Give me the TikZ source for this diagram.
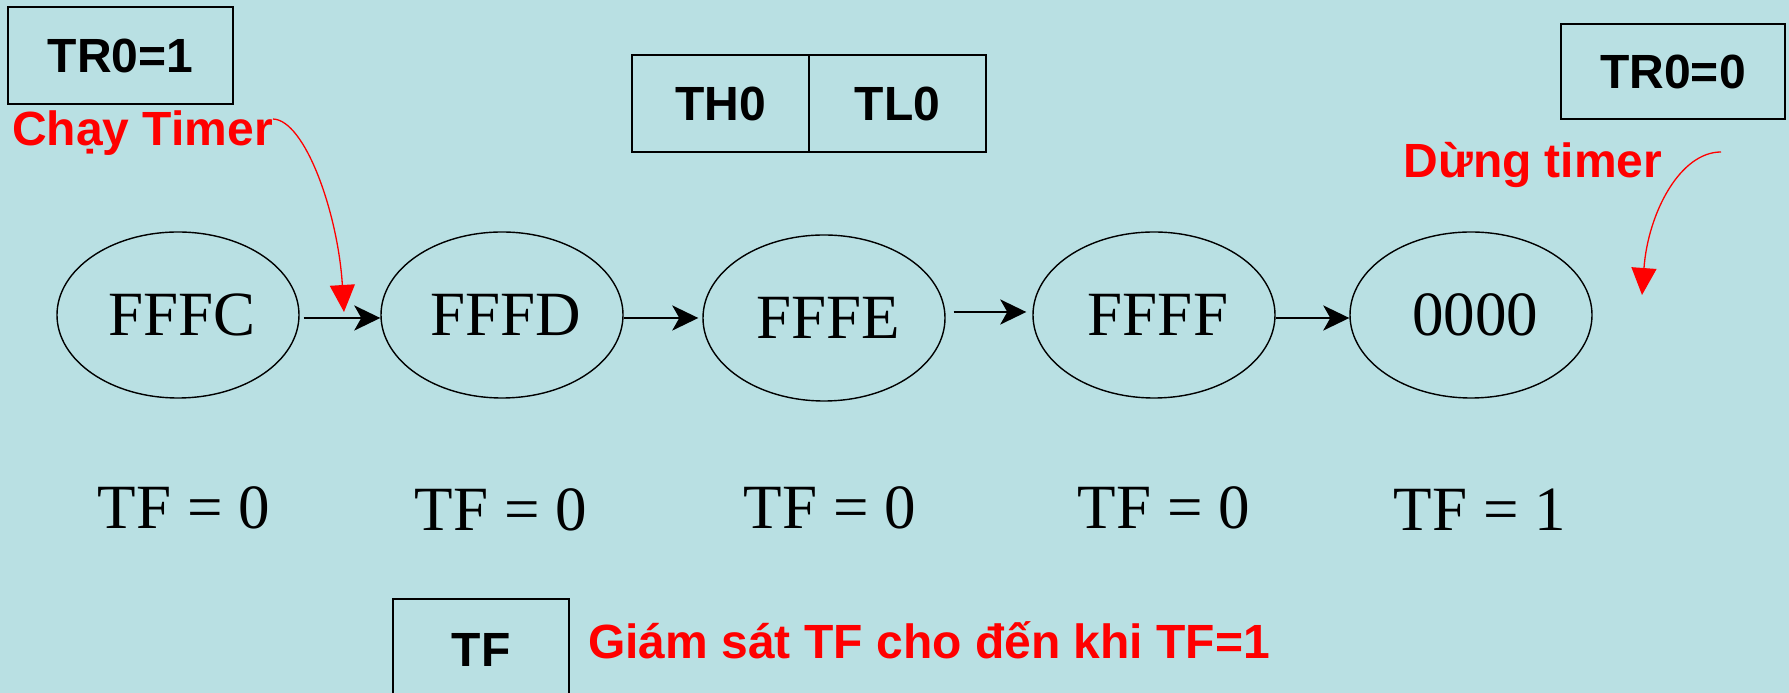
\documentclass[tikz,border=0pt]{standalone}
\usepackage{fontspec}
\setmainfont{Liberation Serif}
\newfontfamily\labelfont{Liberation Sans}
\usetikzlibrary{arrows.meta,shapes.geometric}
\definecolor{bgblue}{RGB}{185,224,227}
\definecolor{alertred}{RGB}{255,0,0}

\begin{document}
\begin{tikzpicture}[x=1pt,y=1pt,
  regbox/.style={draw, line width=1.7pt, inner sep=0pt,
    font=\labelfont\bfseries\fontsize{48}{50}\selectfont},
  countval/.style={ellipse, draw, line width=1.4pt, minimum width=242pt,
    minimum height=166pt, inner sep=0pt, font=\fontsize{63}{66}\selectfont},
  flag/.style={anchor=base, inner sep=0pt, font=\fontsize{63}{66}\selectfont},
  note/.style={anchor=base, inner sep=0pt, text=alertred,
    font=\labelfont\bfseries\fontsize{48}{50}\selectfont},
  tickarrow/.style={-{Stealth[length=26pt,width=25pt,inset=7pt]}, line width=2.7pt},
  callout/.style={-{Triangle[length=27pt,width=25pt]}, line width=1.3pt, color=alertred},
]
% background and page frame
\fill[bgblue] (0,0) rectangle (1789,693);
\useasboundingbox (0,0) rectangle (1789,693);

% control bits and registers
\node[regbox, minimum width=225pt, minimum height=97pt] (run) at (120.5,637.5) {TR0=1};
\node[regbox, minimum width=177pt, minimum height=97pt] (th) at (720.5,589.5) {TH0};
\node[regbox, minimum width=177pt, minimum height=97pt] (tl) at (897.5,589.5) {TL0};
\node[regbox, minimum width=224pt, minimum height=95pt] (stop) at (1673,621.5) {TR0=0};
\node[regbox, minimum width=176pt, minimum height=102pt] (tfbox) at (481,43) {TF};

% counter states
\node[countval] (c1) at (178,378) {\kern8pt FFFC};
\node[countval] (c2) at (502,378) {\kern8pt FFFD};
\node[countval] (c3) at (824,375) {\kern8pt FFFE};
\node[countval] (c4) at (1154,378) {\kern8pt FFFF};
\node[countval] (c5) at (1471,378) {\kern8pt 0000};

% counting steps
\draw[tickarrow] ([xshift=4pt,yshift=-3pt]c1.east) -- ([yshift=-3pt]c2.west);
\draw[tickarrow] ([yshift=-3pt]c2.east) -- ([xshift=-4pt]c3.west);
\draw[tickarrow] ([xshift=8pt,yshift=6pt]c3.east) -- ([xshift=-6pt,yshift=3pt]c4.west);
\draw[tickarrow] ([yshift=-3pt]c4.east) -- ([yshift=-3pt]c5.west);

% overflow flag per state
\node[flag] (f1) at (184,164) {TF = 0};
\node[flag] (f2) at (501,162) {TF = 0};
\node[flag] (f3) at (830,164) {TF = 0};
\node[flag] (f4) at (1164,164) {TF = 0};
\node[flag] (f5) at (1480,162) {TF = 1};

% annotations
\node[note] (runnote) at (142.5,547) {Chạy Timer};
\node[note] (stopnote) at (1533,515) {Dừng timer};
\node[note] (watch) at (929,34) {Giám sát TF cho đến khi TF=1};

\coordinate (runtip) at (344,381);
\coordinate (stopfrom) at (1721,541);
\coordinate (stoptip) at (1642,398);
\draw[callout] ([yshift=-8pt]runnote.north east) .. controls (305,573) and (338,480) .. (runtip);
\draw[callout] (stopfrom) .. controls (1680,541) and (1648,480) .. (stoptip);
\end{tikzpicture}
\end{document}
